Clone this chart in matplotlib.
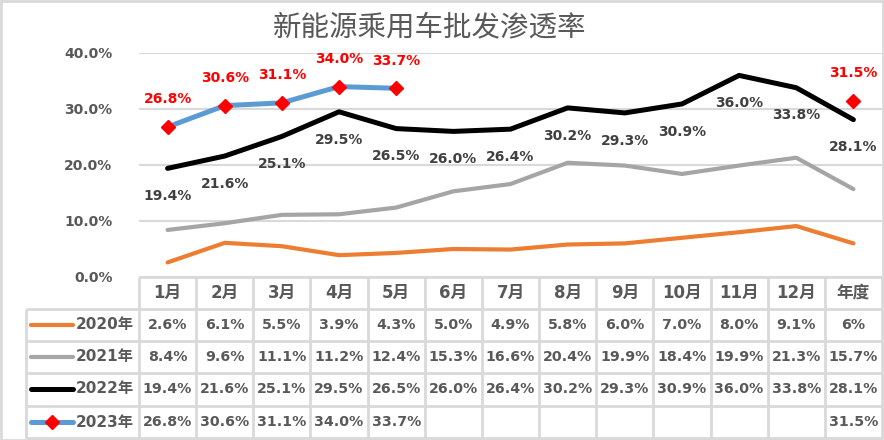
import matplotlib
matplotlib.use("Agg")
import matplotlib.pyplot as plt
from matplotlib.transforms import blended_transform_factory
from matplotlib.patches import Rectangle
import numpy as np

plt.rcParams['font.family'] = ['DejaVu Sans', 'Noto Sans CJK SC']

title = "新能源乘用车批发渗透率"
categories = ["1月", "2月", "3月", "4月", "5月", "6月", "7月", "8月", "9月", "10月", "11月", "12月", "年度"]
series_names = ["2020年", "2021年", "2022年", "2023年"]
v2020 = [2.6, 6.1, 5.5, 3.9, 4.3, 5.0, 4.9, 5.8, 6.0, 7.0, 8.0, 9.1, 6.0]
v2021 = [8.4, 9.6, 11.1, 11.2, 12.4, 15.3, 16.6, 20.4, 19.9, 18.4, 19.9, 21.3, 15.7]
v2022 = [19.4, 21.6, 25.1, 29.5, 26.5, 26.0, 26.4, 30.2, 29.3, 30.9, 36.0, 33.8, 28.1]
v2023 = [26.8, 30.6, 31.1, 34.0, 33.7, None, None, None, None, None, None, None, 31.5]
table_text = [
    ["2.6%", "6.1%", "5.5%", "3.9%", "4.3%", "5.0%", "4.9%", "5.8%", "6.0%", "7.0%", "8.0%", "9.1%", "6%"],
    ["8.4%", "9.6%", "11.1%", "11.2%", "12.4%", "15.3%", "16.6%", "20.4%", "19.9%", "18.4%", "19.9%", "21.3%", "15.7%"],
    ["19.4%", "21.6%", "25.1%", "29.5%", "26.5%", "26.0%", "26.4%", "30.2%", "29.3%", "30.9%", "36.0%", "33.8%", "28.1%"],
    ["26.8%", "30.6%", "31.1%", "34.0%", "33.7%", "", "", "", "", "", "", "", "31.5%"],
]
yticks = [0, 10, 20, 30, 40]

colors = ["#ED7D31", "#A5A5A5", "#000000", "#5B9BD5"]
widths = [3.0, 3.0, 3.6, 3.6]
grid_c = "#D9D9D9"
txt_c = "#595959"

W, H = 884, 440
fig = plt.figure(figsize=(W / 100, H / 100), dpi=100)

ov = fig.add_axes([0, 0, 1, 1])
ov.set_xlim(0, W)
ov.set_ylim(H, 0)
ov.axis("off")

px_l, px_r, px_t, px_b = 139, 882, 53, 277
ax = fig.add_axes([px_l / W, (H - px_b) / H, (px_r - px_l) / W, (px_b - px_t) / H])
n = len(categories)
ax.set_xlim(-0.5, n - 0.5)
ax.set_ylim(0, 40)
for s in ax.spines.values():
    s.set_visible(False)
ax.set_xticks([])
ax.set_yticks(yticks)
ax.set_yticklabels([f"{t:.1f}%" for t in yticks], fontsize=10, fontweight="bold", color=txt_c)
ax.tick_params(axis="y", length=0, pad=19)
ax.grid(axis="y", color=grid_c, lw=1.5)
ax.set_axisbelow(True)
ax.patch.set_alpha(0)

x = np.arange(n)
series = [v2020, v2021, v2022, v2023]
for vals, c, lw in zip(series, colors, widths):
    y = np.array([np.nan if v is None else v for v in vals], dtype=float)
    if c == "#5B9BD5":
        ax.plot(x, y, color=c, lw=lw, marker="D", ms=7.5, mfc="#FF0000", mec="#FF0000",
                solid_capstyle="round", zorder=4)
    else:
        ax.plot(x, y, color=c, lw=lw, solid_capstyle="round", zorder=3)

for i, v in enumerate(v2022):
    ax.annotate(f"{v:.1f}%", (i, v), xytext=(0, -20), textcoords="offset points",
                ha="center", va="center", fontsize=10, fontweight="bold", color="#404040")
for i, v in enumerate(v2023):
    if v is None:
        continue
    ax.annotate(f"{v:.1f}%", (i, v), xytext=(0, 20), textcoords="offset points",
                ha="center", va="center", fontsize=10, fontweight="bold", color="#FF0000")

ov.text(430, 27, title, ha="center", va="center", fontsize=20.5, color=txt_c,
        family=["Noto Sans CJK SC"], fontweight="medium")

tr = blended_transform_factory(ax.transData, ov.transData)
row_lines = [309, 341, 373, 406, 438]
lc = dict(color=grid_c, lw=2, solid_capstyle="butt")
ov.plot([px_l, px_r], [px_b, px_b], **lc)
for yy in row_lines:
    ov.plot([26, px_r], [yy, yy], **lc)
for k in range(n + 1):
    ov.plot([k - 0.5, k - 0.5], [px_b, 438], transform=tr, **lc)
ov.plot([26, 26], [309, 438], **lc)

header_y = 293
row_y = [325, 357, 389, 422]
for i, cat in enumerate(categories):
    ov.text(i, header_y, cat, transform=tr, ha="center", va="center",
            fontsize=12, fontweight="bold", color=txt_c)
for r, row in enumerate(table_text):
    for i, t in enumerate(row):
        if t:
            ov.text(i, row_y[r], t, transform=tr, ha="center", va="center",
                    fontsize=10.2, fontweight="bold", color=txt_c)
    ov.plot([31, 73], [row_y[r], row_y[r]], color=colors[r], lw=widths[r], solid_capstyle="round")
    if r == 3:
        ov.plot([52], [row_y[r]], marker="D", ms=7, color="#FF0000", ls="none")
    ov.text(134, row_y[r], series_names[r], ha="right", va="center",
            fontsize=11, fontweight="bold", color=txt_c)

fig.add_artist(Rectangle((0.5 / W, 0.5 / H), (W - 2) / W, (H - 2) / H, transform=fig.transFigure,
                         fill=False, ec=grid_c, lw=2))

fig.savefig("out.png", dpi=100)
